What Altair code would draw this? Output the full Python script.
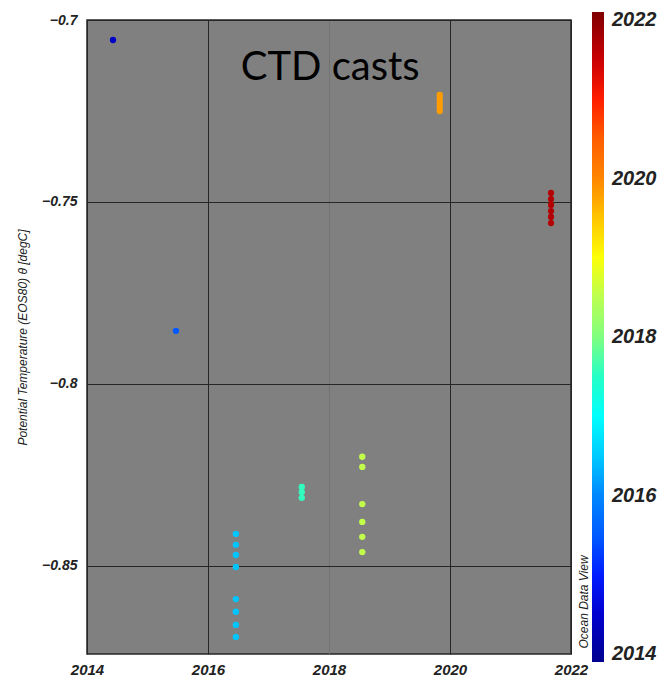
import altair as alt
import pandas as pd

# CTD casts: decimal year of cast and potential temperature (degC)
cast_year = [2014.43, 2015.47,
             2016.46, 2016.46, 2016.46, 2016.46, 2016.46, 2016.46, 2016.46, 2016.46,
             2017.55, 2017.55, 2017.55,
             2018.55, 2018.55, 2018.55, 2018.55, 2018.55, 2018.55,
             2019.83, 2019.83, 2019.83, 2019.83, 2019.83,
             2021.67, 2021.67, 2021.67, 2021.67, 2021.67, 2021.67]
theta = [-0.7055, -0.7854,
         -0.8412, -0.8442, -0.8470, -0.8503, -0.8591, -0.8626, -0.8662, -0.8695,
         -0.8283, -0.8297, -0.8313,
         -0.8200, -0.8228, -0.8330, -0.8379, -0.8420, -0.8462,
         -0.7206, -0.7217, -0.7228, -0.7239, -0.7250,
         -0.7475, -0.7492, -0.7508, -0.7525, -0.7541, -0.7558]

x_ticks = [2014, 2016, 2018, 2020, 2022]
y_ticks = [-0.85, -0.8, -0.75, -0.7]
color_ticks = [2014, 2016, 2018, 2020, 2022]
color_domain = [2013.9, 2022.1]   # colour bar incl. its end caps
jet = ["#00008f", "#0000ff", "#0080ff", "#00ffff", "#80ff80",
       "#ffff00", "#ff8000", "#ff0000", "#800000"]

df = pd.DataFrame({"year": cast_year, "theta": theta})

notes = pd.DataFrame({
    "year": [2018.02, 2022.22],
    "theta": [-0.7165, -0.8599],
    "label": ["CTD casts", "Ocean Data View"],
})

W, H = 484, 634
BAR_LEN = H * (color_domain[1] - color_domain[0]) / 8.0
BAR_TOP = -H * (color_domain[1] - 2022) / 8.0
LBL = dict(labelFont="Liberation Sans", labelFontWeight="bold",
           labelFontStyle="italic", labelColor="#222222")

xscale = alt.Scale(domain=[2014, 2022], nice=False, zero=False)
yscale = alt.Scale(domain=[-0.8742, -0.7], nice=False, zero=False)

x_grid_color = {"condition": {"test": "datum.value == 2018", "value": "#727272"},
                "value": "#262626"}

points = alt.Chart(df).mark_circle(size=40, opacity=1).encode(
    x=alt.X("year:Q", scale=xscale,
            axis=alt.Axis(values=x_ticks, format="d", title=None, ticks=False,
                          labelPadding=8, gridColor=x_grid_color, gridWidth=1,
                          labelFontSize=15, labelFlush=False, labelOverlap=False,
                          domain=False, **LBL)),
    y=alt.Y("theta:Q", scale=yscale,
            axis=alt.Axis(values=y_ticks, format="~g", ticks=False,
                          title="Potential Temperature (EOS80) θ [degC]",
                          titleFont="Liberation Sans", titleFontStyle="italic",
                          titleFontWeight="normal", titleFontSize=12,
                          titleColor="#222222", titlePadding=12,
                          labelPadding=10, gridColor="#262626", gridWidth=1,
                          labelFontSize=14, labelFlush=False, domain=False, **LBL)),
    color=alt.Color("year:Q",
                    scale=alt.Scale(type="linear", domain=color_domain, range=jet),
                    legend=alt.Legend(orient="none", legendX=W + 21, legendY=BAR_TOP,
                                      direction="vertical", title=None,
                                      gradientLength=BAR_LEN, gradientThickness=12,
                                      gradientStrokeWidth=0, values=color_ticks,
                                      format="d", labelOverlap=False,
                                      labelOffset=8, labelFontSize=20,
                                      labelFont="Liberation Sans",
                                      labelFontWeight="bold",
                                      labelFontStyle="italic",
                                      labelColor="#222222")),
)

title_txt = alt.Chart(notes).transform_filter(
    alt.datum.label == "CTD casts"
).mark_text(font="Lato", fontSize=40, color="#000000", align="center",
            baseline="alphabetic").encode(
    x=alt.X("year:Q", scale=xscale),
    y=alt.Y("theta:Q", scale=yscale),
    text="label:N",
)

odv_txt = alt.Chart(notes).transform_filter(
    alt.datum.label == "Ocean Data View"
).mark_text(font="Liberation Sans", fontSize=12, fontStyle="italic",
            color="#222222", angle=270, align="center",
            baseline="middle").encode(
    x=alt.X("year:Q", scale=xscale),
    y=alt.Y("theta:Q", scale=yscale),
    text="label:N",
)

chart = alt.layer(points, title_txt, odv_txt).properties(
    width=W, height=H,
    background="#ffffff",
    padding={"left": 8, "top": 4, "right": 0, "bottom": 0},
).configure_view(
    fill="#808080", stroke="#262626", strokeWidth=1.5
)

chart.save("out.html", embed_options={"renderer": "svg", "actions": False})
